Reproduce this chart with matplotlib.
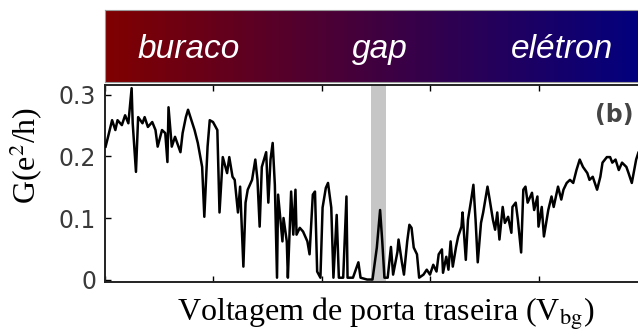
import matplotlib
matplotlib.use("Agg")
import matplotlib.pyplot as plt
import numpy as np
from matplotlib.colors import LinearSegmentedColormap

# back-gate voltage (arb. units) and conductance G in e^2/h
vbg = [
    -19.9, -19.7, -19.3, -19.0, -18.8, -18.4, -18.1, -17.8, -17.5, -17.4,
    -17.1, -16.9, -16.5, -16.3, -16.0, -15.6, -15.3, -15.1, -14.7, -14.4,
    -14.2, -14.1, -13.8, -13.5, -13.3, -13.0, -12.8, -12.5, -12.3, -11.9,
    -11.7, -11.4, -11.0, -10.8, -10.5, -10.3, -10.0, -9.6, -9.4, -9.1,
    -8.7, -8.5, -8.2, -8.0, -7.7, -7.5, -7.2, -7.0, -6.8, -6.4,
    -6.1, -5.9, -5.7, -5.5, -5.1, -4.9, -4.7, -4.5, -4.3, -4.1,
    -4.0, -3.6, -3.5, -3.2, -3.1, -2.8, -2.6, -2.4, -2.3, -2.0,
    -1.7, -1.3, -1.1, -0.8, -0.6, -0.4, -0.1, 0.1, 0.4, 0.6,
    0.9, 1.1, 1.4, 1.6, 2.0, 2.3, 2.4, 2.9, 3.4, 3.6,
    4.2, 4.7, 5.1, 5.4, 5.6, 5.8, 6.1, 6.4, 6.6, 7.0,
    7.1, 7.4, 7.6, 7.9, 8.1, 8.3, 8.5, 8.8, 9.0, 9.4,
    9.7, 10.0, 10.3, 10.6, 10.8, 11.1, 11.2, 11.5, 11.7, 11.9,
    12.1, 12.4, 12.6, 12.9, 13.0, 13.3, 13.5, 13.8, 14.0, 14.2,
    14.4, 14.7, 14.9, 15.3, 15.5, 15.8, 16.0, 16.2, 16.4, 16.7,
    16.9, 17.2, 17.5, 17.6, 17.9, 18.1, 18.4, 18.6, 18.8, 19.0,
    19.4, 19.6, 19.9, 20.0, 20.3, 20.5, 20.9, 21.2, 21.4, 21.8,
    22.1, 22.3, 22.6, 22.9, 23.2, 23.5, 23.8, 24.1, 24.5, 24.7,
    25.0, 25.4, 25.7, 25.9, 26.3, 26.6, 26.8, 27.1, 27.4, 27.7,
    28.1, 28.3, 28.6, 29.0, 29.2,
]
G = [
    0.216, 0.230, 0.259, 0.243, 0.259, 0.251, 0.267, 0.254, 0.311, 0.254,
    0.175, 0.264, 0.254, 0.264, 0.248, 0.256, 0.243, 0.216, 0.243, 0.238,
    0.191, 0.280, 0.216, 0.232, 0.222, 0.207, 0.238, 0.264, 0.276, 0.254,
    0.243, 0.222, 0.183, 0.102, 0.216, 0.259, 0.256, 0.243, 0.109, 0.199,
    0.173, 0.199, 0.167, 0.162, 0.109, 0.151, 0.021, 0.125, 0.146, 0.162,
    0.195, 0.162, 0.086, 0.183, 0.207, 0.125, 0.195, 0.222, 0.154, 0.003,
    0.138, 0.062, 0.100, 0.062, 0.003, 0.143, 0.073, 0.146, 0.073, 0.084,
    0.078, 0.062, 0.041, 0.138, 0.143, 0.013, 0.003, 0.117, 0.149, 0.157,
    0.117, 0.003, 0.105, 0.003, 0.003, 0.135, 0.003, 0.003, 0.028, 0.003,
    0.000, 0.000, 0.052, 0.113, 0.062, 0.003, 0.003, 0.053, 0.008, 0.045,
    0.065, 0.029, 0.008, 0.062, 0.089, 0.084, 0.052, 0.041, 0.003, 0.008,
    0.016, 0.008, 0.024, 0.013, 0.041, 0.049, 0.011, 0.037, 0.016, 0.062,
    0.021, 0.053, 0.070, 0.086, 0.109, 0.032, 0.097, 0.130, 0.154, 0.097,
    0.028, 0.092, 0.109, 0.151, 0.130, 0.097, 0.081, 0.109, 0.065, 0.118,
    0.092, 0.102, 0.076, 0.118, 0.125, 0.097, 0.044, 0.146, 0.151, 0.125,
    0.141, 0.113, 0.135, 0.086, 0.118, 0.070, 0.113, 0.135, 0.118, 0.151,
    0.130, 0.146, 0.157, 0.162, 0.157, 0.178, 0.195, 0.183, 0.173, 0.162,
    0.167, 0.146, 0.167, 0.190, 0.199, 0.199, 0.190, 0.195, 0.178, 0.190,
    0.183, 0.173, 0.157, 0.195, 0.206,
]
gap_band = (4.6, 5.9)
regions = ["buraco", "gap", "elétron"]
region_pos = [-12.2, 5.4, 22.2]

plt.rcParams["mathtext.fontset"] = "stix"

fig = plt.figure(figsize=(6.38, 3.32), dpi=100)
W, H = 638.0, 332.0
ax_l, ax_r, ax_t, ax_b = 104.5, 647.0, 84.5, 282.0
ax = fig.add_axes([ax_l / W, 1 - ax_b / H, (ax_r - ax_l) / W, (ax_b - ax_t) / H])

ax.axvspan(gap_band[0], gap_band[1], color="#c6c6c6", lw=0, zorder=1)
ax.plot(vbg, G, color="black", lw=1.8, zorder=3)

ax.set_xlim(-20, 30)
ax.set_ylim(-0.004, 0.317)
ax.set_xticks(np.arange(-20, 31, 10))
ax.set_xticklabels([])
ax.set_yticks([0, 0.1, 0.2, 0.3])
ax.set_yticklabels(["0", "0.1", "0.2", "0.3"])
ax.tick_params(axis="both", direction="in", length=4, width=1.0,
               top=True, right=False, labelsize=17, labelcolor="#3a3a3a", pad=6)
for s in ax.spines.values():
    s.set_linewidth(1.4)
    s.set_color("#222222")

ax.text(0.939, 0.846, "(b)", transform=ax.transAxes, ha="center", va="center",
        fontsize=17, fontweight="bold", color="#454545")

fig.text(26 / W, 1 - 155 / H, "G(e$^2$/h)", rotation=90, ha="center", va="center",
         fontsize=23, family="Liberation Serif")
fig.text(386 / W, 1 - 321 / H, r"Voltagem de porta traseira (V$_{\mathrm{bg}}$)",
         ha="center", va="baseline", fontsize=23, family="Liberation Serif")

# colour banner above the plot: hole side (red) -> electron side (blue)
bx = fig.add_axes([ax_l / W, 1 - 82 / H, (ax_r - ax_l) / W, 72 / H])
cmap = LinearSegmentedColormap.from_list("he", ["#800000", "#000080"])
bx.imshow(np.linspace(0, 1, 256)[None, :], cmap=cmap, aspect="auto",
          extent=(-20, 30, 0, 1))
bx.set_xlim(-20, 30)
bx.set_ylim(0, 1)
bx.set_xticks([])
bx.set_yticks([])
for s in bx.spines.values():
    s.set_color("#9a9a9a")
    s.set_linewidth(0.8)
for name, xp in zip(regions, region_pos):
    bx.text(xp, 0.333, name, ha="center", va="baseline", color="white",
            fontsize=24, style="italic", family="Liberation Sans")

fig.savefig("out.png", dpi=100)
